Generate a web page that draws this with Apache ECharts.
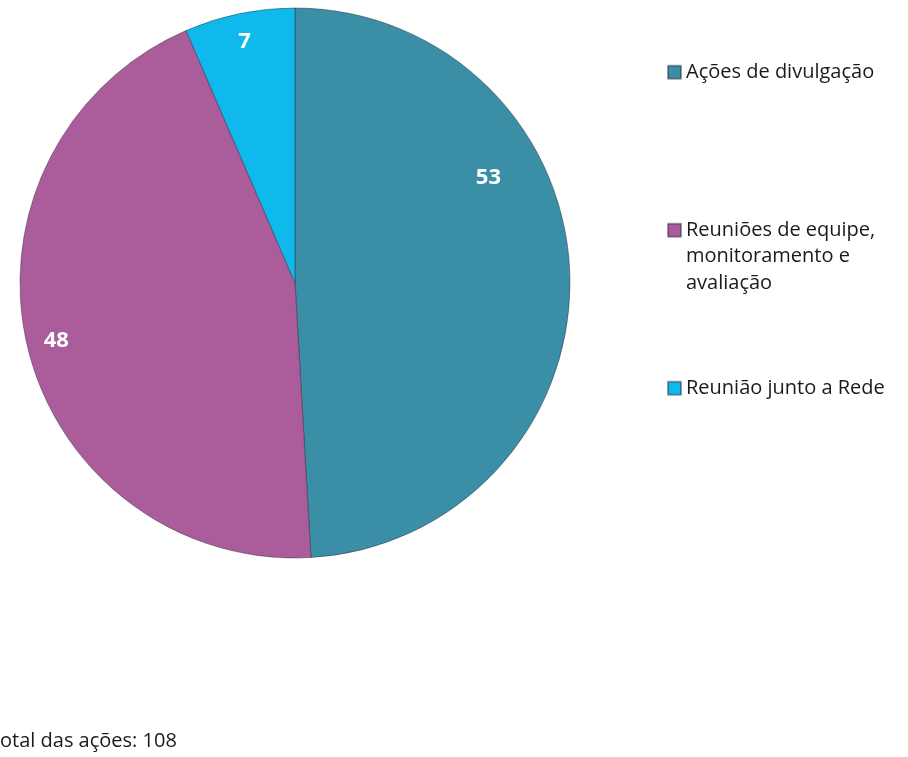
<!DOCTYPE html>
<html>
<head>
<meta charset="utf-8">
<script src="https://cdn.jsdelivr.net/npm/echarts@6/dist/echarts.min.js"></script>
<style>
  html, body { margin: 0; padding: 0; background: #fff; }
  #chart { width: 908px; height: 757px; }
</style>
</head>
<body>
<div id="chart"></div>
<script>
// dados do gráfico
var categorias = ['Ações de divulgação', 'Reuniões de equipe, monitoramento e avaliação', 'Reunião junto a Rede'];
// linhas vazias no início: o marcador fica alinhado à primeira linha
var legendas = ['Ações de divulgação', '\n\nReuniões de equipe,\nmonitoramento e\navaliação', 'Reunião junto a Rede'];
var valores = [53, 48, 7];
var cores = ['#3a8fa6', '#aa5c9b', '#10b9ec'];
var totalTexto = 'Total das ações: 108';

// deslocamento dos rótulos (o Excel não coloca no meio da fatia)
var deslocRotulo = [[53, -101], [-102, 25], [-22, -104]];

var chart = echarts.init(document.getElementById('chart'));

var dados = [];
for (var i = 0; i < valores.length; i++) {
  dados.push({
    name: categorias[i],
    value: valores[i],
    itemStyle: { color: cores[i] }
  });
}

// cada item da legenda tem o seu bloco, os espaços não são iguais
var legendTops = [54, 159, 370];
var legend = [];
for (var i = 0; i < categorias.length; i++) {
  legend.push({
    orient: 'vertical',
    left: 662,
    top: legendTops[i],
    icon: 'rect',
    itemWidth: 13,
    itemHeight: 13,
    selectedMode: false,
    data: [categorias[i]],
    formatter: (function (k) { return function () { return legendas[k]; }; })(i),
    textStyle: {
      fontFamily: 'Open Sans',
      fontSize: 20,
      color: '#1a1a1a',
      lineHeight: 26.5
    }
  });
}

var option = {
  animation: false,
  backgroundColor: '#fff',
  legend: legend,
  series: [{
    type: 'pie',
    center: [295, 283],
    radius: 275,
    startAngle: 90,
    clockwise: true,
    data: dados,
    itemStyle: {
      borderColor: 'rgba(40,40,60,0.45)',
      borderWidth: 1
    },
    label: {
      show: true,
      position: 'inside',
      formatter: '{c}',
      color: '#fff',
      fontFamily: 'Open Sans',
      fontWeight: 'bold',
      fontSize: 22
    },
    labelLayout: function (p) {
      var d = deslocRotulo[p.dataIndex];
      return { dx: d[0], dy: d[1], hideOverlap: false };
    },
    emphasis: { disabled: true }
  }],
  graphic: [{
    type: 'text',
    left: -11,
    top: 731,
    style: {
      text: totalTexto,
      fontFamily: 'Open Sans',
      fontSize: 20,
      fill: '#1a1a1a'
    }
  }]
};

chart.setOption(option);
</script>
</body>
</html>
